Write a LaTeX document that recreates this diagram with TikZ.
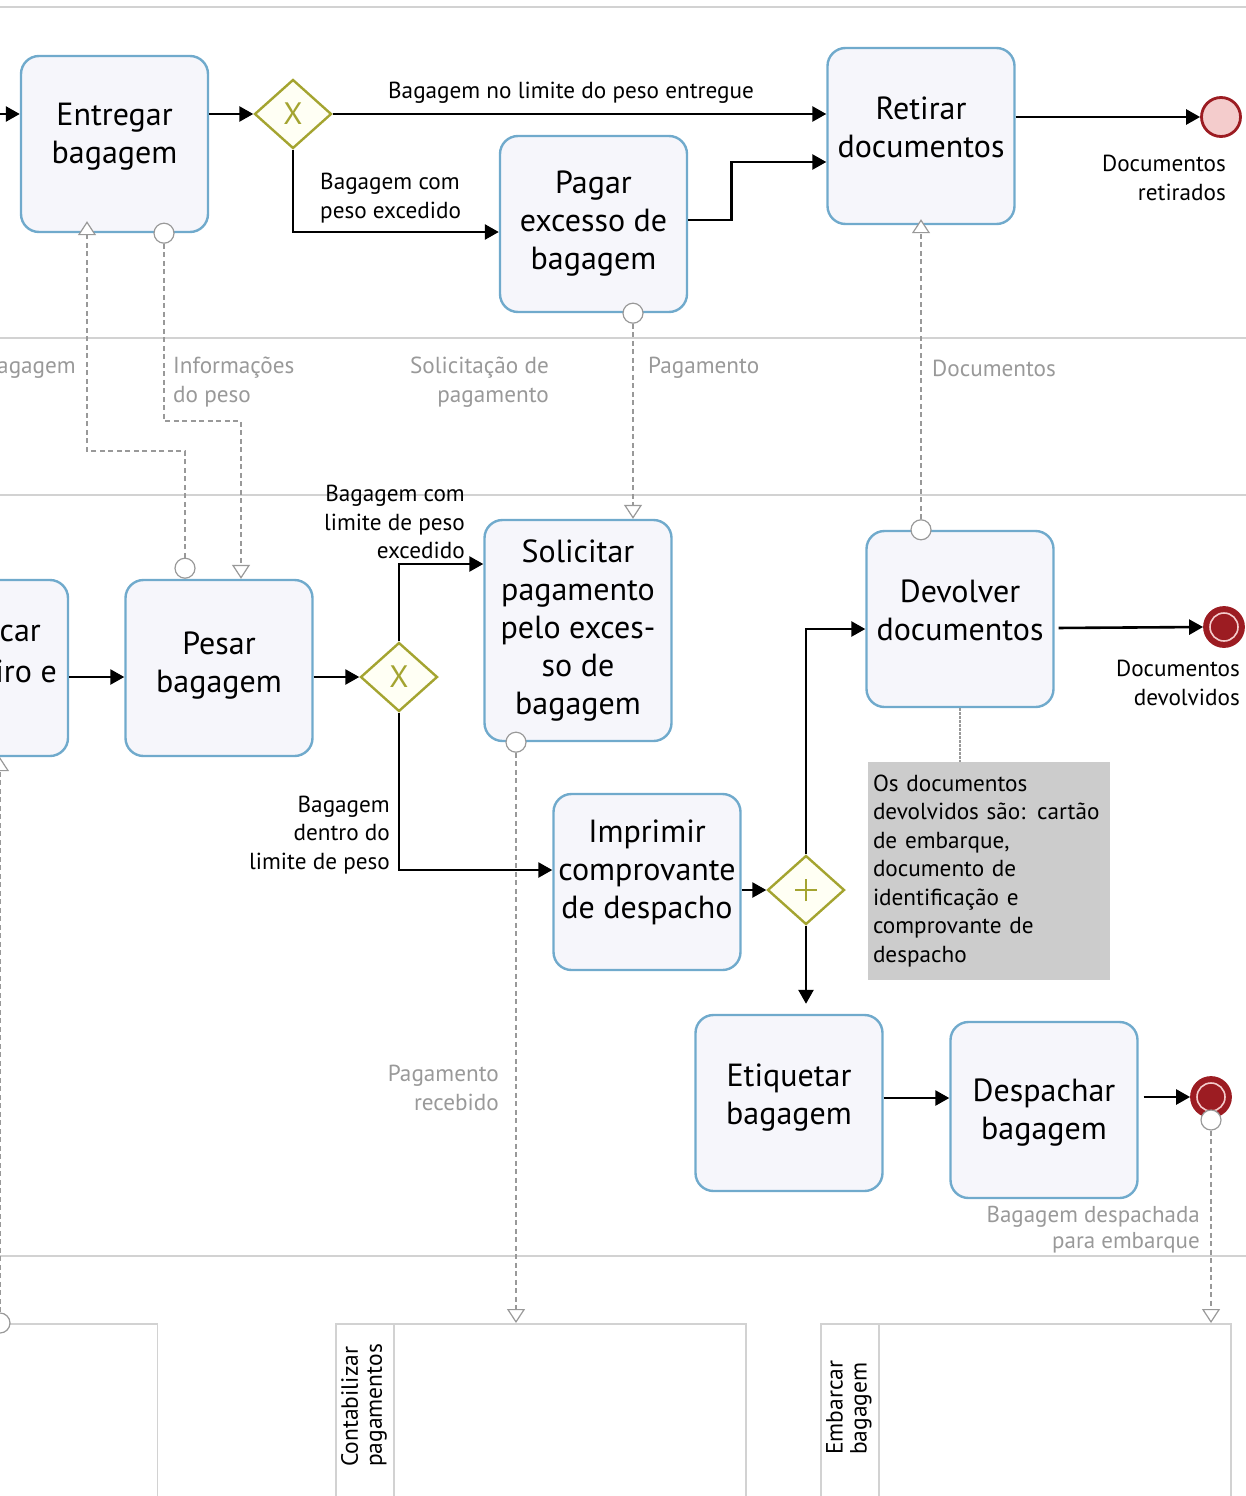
\documentclass[tikz,border=0pt]{standalone}
\usepackage{fontspec}
\setmainfont{PT Sans}
\usetikzlibrary{arrows.meta,shapes.geometric,calc}

\definecolor{taskblue}{RGB}{112,170,204}
\definecolor{taskfill}{RGB}{246,246,251}
\definecolor{gwolive}{RGB}{164,164,48}
\definecolor{gwfill}{RGB}{255,255,244}
\definecolor{endred}{RGB}{156,28,34}
\definecolor{endpink}{RGB}{244,204,204}
\definecolor{msggray}{RGB}{153,153,153}
\definecolor{lanegray}{RGB}{210,210,210}
\definecolor{notegray}{RGB}{204,204,204}

\newcommand\tasksz{\fontsize{32}{38}\selectfont}
\newcommand\lblsz{\fontsize{23.2}{28.5}\selectfont}
\newcommand\poolsz{\fontsize{23.5}{24}\selectfont}

\begin{document}
\begin{tikzpicture}[x=1pt,y=-1pt,
  task/.style={draw=taskblue, fill=taskfill, line width=2.4pt, rounded corners=18pt,
    minimum width=187pt, minimum height=176pt, inner sep=0pt},
  tasktext/.style={align=center, font=\tasksz, inner sep=0pt},
  gateway/.style={diamond, draw=gwolive, fill=gwfill, line width=2.4pt,
    minimum width=77pt, minimum height=69pt, inner sep=0pt, text=gwolive,
    font=\fontsize{31}{31}\selectfont},
  pargw/.style={gateway, path picture={
    \draw[gwolive, line width=2pt] ($(path picture bounding box.center)+(-11pt,0pt)$) -- +(22pt,0pt);
    \draw[gwolive, line width=2pt] ($(path picture bounding box.center)+(0pt,-11pt)$) -- +(0pt,22pt);}},
  endplain/.style={circle, draw=endred, fill=endpink, line width=2.8pt, minimum size=39pt, inner sep=0pt},
  endterm/.style={circle, draw=endred, fill=endred, line width=2.8pt, minimum size=39pt, inner sep=0pt,
    path picture={\draw[endpink, line width=1.6pt] (path picture bounding box.center) circle (14pt);}},
  seq/.style={draw=black, line width=2.6pt, -{Triangle[length=14pt,width=15pt]}},
  msg/.style={draw=msggray, line width=2pt, dash pattern=on 5pt off 3.5pt,
    -{Triangle[length=14pt,width=18pt,fill=white,line width=1.2pt]}},
  msgsrc/.style={circle, draw=msggray, fill=white, line width=1.2pt, minimum size=20pt, inner sep=0pt},
  assoc/.style={draw=msggray, line width=2pt, dash pattern=on 2.5pt off 1.5pt},
  lbl/.style={font=\lblsz, inner sep=0pt},
  glbl/.style={lbl, text=msggray},
  pool/.style={draw=lanegray, line width=1.5pt, inner sep=0pt},
  lane/.style={draw=lanegray, line width=1.5pt},
  note/.style={fill=notegray, minimum width=242pt, minimum height=218pt, text width=232pt,
    inner xsep=5pt, inner ysep=0pt, align=left, font=\lblsz},
  poollbl/.style={rotate=90, anchor=west, align=left, font=\poolsz, inner sep=0pt}
]
\useasboundingbox (0,0) rectangle (1246,1496);
\clip (0,0) rectangle (1246,1496);

% pool and lane boundaries
\draw[lane] (-5,7) -- (1251,7);
\draw[lane] (-5,338) -- (1251,338);
\draw[lane] (-5,495) -- (1251,495);
\draw[lane] (-5,1256) -- (1251,1256);

% collapsed pools at the bottom
\node[pool, anchor=north east, minimum width=358pt, minimum height=220pt] (pool1) at (158,1323) {};
\node[pool, anchor=north west, minimum width=410pt, minimum height=220pt] (pool2) at (335,1323) {};
\node[pool, anchor=north west, minimum width=410pt, minimum height=220pt] (pool3) at (820,1323) {};
\draw[pool] ([xshift=59pt]pool2.north west) -- ([xshift=59pt]pool2.south west);
\draw[pool] ([xshift=59pt]pool3.north west) -- ([xshift=59pt]pool3.south west);
\node[poollbl] (pl2) at (364,1467) {Contabilizar\\pagamentos};
\node[poollbl] (pl3) at (849,1455) {Embarcar\\bagagem};

% tasks
\node[task] (entregar) at (114.5,144) {};
\node[tasktext] (entregar-t) at ([yshift=7pt]entregar.center) {Entregar\\bagagem};
\node[task] (retirar) at (921,136) {};
\node[tasktext] (retirar-t) at ([yshift=9pt]retirar.center) {Retirar\\documentos};
\node[task] (pagar) at (593.5,224) {};
\node[tasktext] (pagar-t) at (pagar.center) {Pagar\\excesso de\\bagagem};
\node[task] (ptask) at (-25.5,668) {};
\node[font=\tasksz, inner sep=0pt, anchor=east] (ptxt1) at (41,633) {car};
\node[font=\tasksz, inner sep=0pt, anchor=east] (ptxt2) at (57,671) {iro e};
\node[task] (pesar) at (219,668) {};
\node[tasktext] (pesar-t) at ([yshift=2pt]pesar.center) {Pesar\\bagagem};
\node[task, minimum height=221pt] (solicitar) at (578,630.5) {};
\node[tasktext] (solicitar-t) at (solicitar.center) {Solicitar\\pagamento\\pelo exces-\\so de\\bagagem};
\node[task] (devolver) at (960,619) {};
\node[tasktext] (devolver-t) at ([yshift=9pt]devolver.center) {Devolver\\documentos};
\node[task] (imprimir) at (647,882) {};
\node[tasktext] (imprimir-t) at ([yshift=10pt]imprimir.center) {Imprimir\\comprovante\\de despacho};
\node[task] (etiquetar) at (789,1103) {};
\node[tasktext] (etiquetar-t) at ([yshift=5pt]etiquetar.center) {Etiquetar\\bagagem};
\node[task] (despachar) at (1044,1110) {};
\node[tasktext] (despachar-t) at ([yshift=-3pt]despachar.center) {Despachar\\bagagem};

% gateways
\node[gateway] (g1) at (293,114) {X};
\node[gateway] (g2) at (399,677) {X};
\node[pargw] (g3) at (806,890) {};

% end events
\node[endplain] (e1) at (1221,117) {};
\node[endterm] (e2) at (1224,627) {};
\node[endterm] (e3) at (1211,1097) {};

% annotation
\node[note] (note) at (989,871) {Os documentos\\devolvidos são: cartão\\de embarque,\\documento de\\identificação e\\comprovante de\\despacho};
\draw[assoc] (devolver.south) -- (devolver.south |- note.north);

% sequence flows
\coordinate (inl) at (-10,114);
\draw[seq] (inl) -- (inl -| entregar.west);
\draw[seq] (entregar.east |- g1.west) -- (g1.west);
\draw[seq] (g1.east) -- (g1.east -| retirar.west);
\draw[seq] (g1.south) |- ([yshift=-8pt]pagar.west);
\draw[seq] ([yshift=4pt]pagar.east) -- ++(43,0) |- ([yshift=-26pt]retirar.west);
\draw[seq] (retirar.east |- e1.west) -- (e1.west);
\draw[seq] ([yshift=-9pt]ptask.east) -- ([yshift=-9pt]pesar.west);
\draw[seq] ([yshift=-9pt]pesar.east) -- (g2.west);
\draw[seq] (g2.north) |- ([yshift=66.5pt]solicitar.west);
\draw[seq] (g2.south) |- ([yshift=12pt]imprimir.west);
\draw[seq] ([yshift=-8pt]imprimir.east) -- (g3.west);
\draw[seq] (g3.north) |- ([yshift=-10pt]devolver.west);
\draw[seq, shorten >=10pt] (g3.south) -- (g3.south |- etiquetar.north);
\draw[seq, shorten <=4pt] ([yshift=-9pt]devolver.east) -- (e2.west);
\draw[seq] ([yshift=5pt]etiquetar.east) -- ([yshift=5pt]etiquetar.east -| despachar.west);
\draw[seq, shorten <=5pt] ([yshift=13pt]despachar.east) -- (e3.west);

% sequence flow labels
\node[lbl] (l1) at (571,93) {Bagagem no limite do peso entregue};
\node[lbl, anchor=west, align=left] (l2) at (320,198) {Bagagem com\\peso excedido};
\node[lbl, anchor=east, align=right] (l3) at (1226,178) {Documentos\\retirados};
\node[lbl, anchor=east, align=right] (l4) at (465,522) {Bagagem com\\limite de peso\\excedido};
\node[lbl, anchor=east, align=right] (l5) at (390,835) {Bagagem\\dentro do\\limite de peso};
\node[lbl, anchor=east, align=right] (l6) at (1240,683) {Documentos\\devolvidos};

% message flows
\node[msgsrc, anchor=south] (c1) at ([xshift=-34pt]pesar.north) {};
\coordinate (m1) at (0,451);
\draw[msg, shorten >=-12pt] (c1.north) -- (c1.north |- m1) -| ([xshift=-27.5pt]entregar.south);

\node[msgsrc] (c2) at ([xshift=49.5pt]entregar.south) {};
\coordinate (m2) at (0,421);
\draw[msg] (c2.south) -- (c2.south |- m2) -| ([xshift=22pt]pesar.north);

\node[msgsrc] (c3) at ([xshift=39.5pt]pagar.south) {};
\draw[msg] (c3.south) -- (c3.south |- solicitar.north);

\node[msgsrc] (c4) at ([xshift=-39pt]devolver.north) {};
\draw[msg, shorten >=-6pt] (c4.north) -- (c4.north |- retirar.south);

\node[msgsrc] (c5) at ([xshift=-62pt]solicitar.south) {};
\draw[msg] (c5.south) -- (c5.south |- pool2.north);

\node[msgsrc] (c6) at ([yshift=-23pt]e3.center) {};
\draw[msg] (c6.south) -- (c6.south |- pool3.north);

\node[msgsrc] (c7) at ([xshift=-158pt]pool1.north east) {};
\draw[msg] (c7.north) -- (c7.north |- ptask.south);

% message flow labels
\node[glbl, anchor=east] (ml1) at (76,368) {Bagagem};
\node[glbl, anchor=west, align=left] (ml2) at (173,382) {Informações\\do peso};
\node[glbl, anchor=east, align=right] (ml3) at (549,382) {Solicitação de\\pagamento};
\node[glbl, anchor=west] (ml4) at (648,368) {Pagamento};
\node[glbl, anchor=west] (ml5) at (932,368) {Documentos};
\node[glbl, anchor=east, align=right] (ml6) at (499,1088) {Pagamento\\recebido};
\node[glbl, anchor=east, align=right, font=\fontsize{23}{26}\selectfont] (ml7) at (1200,1230) {Bagagem despachada\\para embarque};
\end{tikzpicture}
\end{document}
